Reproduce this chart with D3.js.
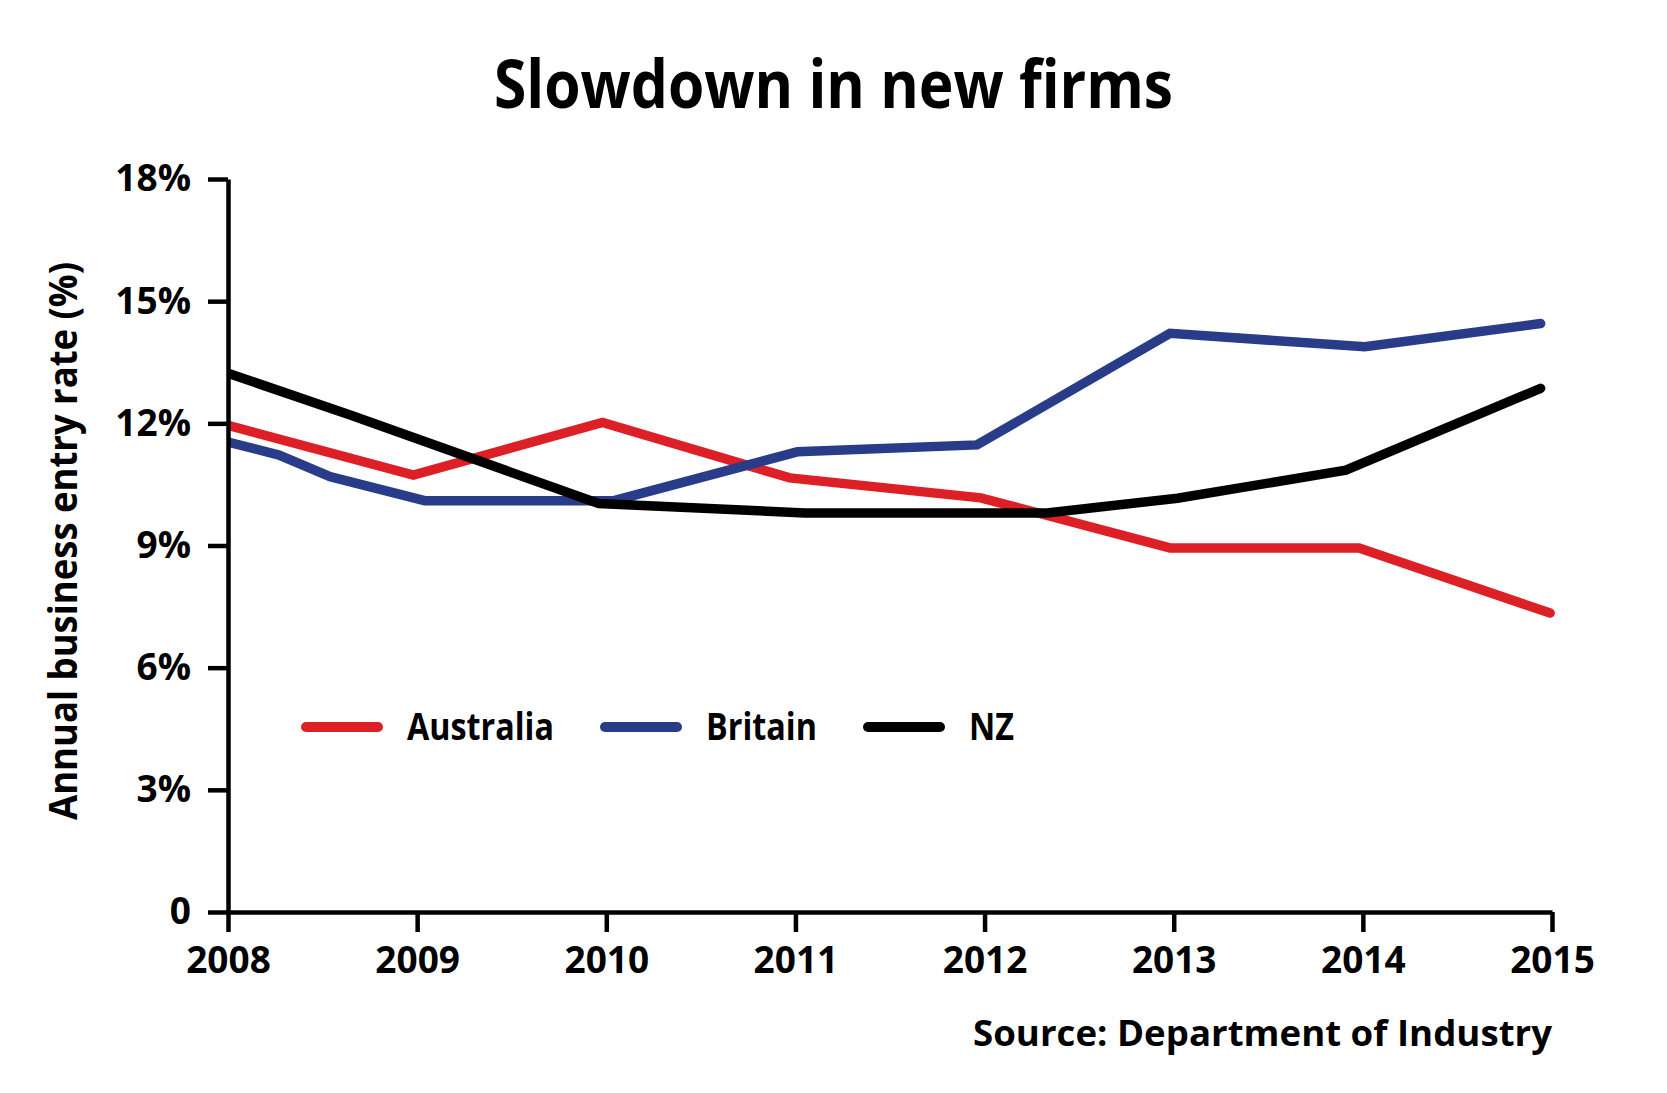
<!DOCTYPE html>
<html>
<head>
<meta charset="utf-8">
<script src="https://cdn.jsdelivr.net/npm/d3@7"></script>
<style>
  html, body { margin: 0; padding: 0; background: #fff; }
  svg { display: block; }
  text { font-family: "Open Sans", "DejaVu Sans", sans-serif; font-weight: 700; fill: #000; }
</style>
</head>
<body>
<svg id="chart" width="1667" height="1093"></svg>
<script>
// ---------- data ----------
const years = [2008, 2009, 2010, 2011, 2012, 2013, 2014, 2015];
const yTickValues = [0, 3, 6, 9, 12, 15, 18];
const yTickLabels = ["0", "3%", "6%", "9%", "12%", "15%", "18%"];

const seriesNames = ["Australia", "Britain", "NZ"];

const australiaX = [2008, 2008.98, 2009.98, 2010.97, 2011.98, 2012.98, 2013.98, 2014.99];
const australia  = [11.95, 10.73, 12.02, 10.66, 10.17, 8.94, 8.94, 7.34];

const britainX = [2008, 2008.27, 2008.54, 2009.04, 2010.04, 2011.01, 2011.96, 2012.98, 2014.01, 2014.94];
const britain  = [11.54, 11.22, 10.69, 10.10, 10.10, 11.30, 11.47, 14.21, 13.88, 14.45];

const nzX = [2008, 2008.65, 2009.96, 2011.05, 2012.33, 2013.02, 2013.91, 2014.94];
const nz  = [13.23, 12.20, 10.03, 9.80, 9.80, 10.16, 10.85, 12.86];

const titleText = "Slowdown in new firms";
const yAxisTitle = "Annual business entry rate (%)";
const sourceText = "Source: Department of Industry";

// ---------- styling / layout ----------
const colors = { "Australia": "#dd1f26", "Britain": "#283c8a", "NZ": "#000000" };
const legendTextWidths = { "Australia": 147, "Britain": 111, "NZ": 45 };

const svg = d3.select("#chart");
const x = d3.scaleLinear().domain([2008, 2015]).range([228, 1552]);
const y = d3.scaleLinear().domain([0, 18]).range([912, 179]);

const series = [
  { name: "Australia", pts: australiaX.map((v, i) => ({ x: v, v: australia[i] })) },
  { name: "Britain",   pts: britainX.map((v, i) => ({ x: v, v: britain[i] })) },
  { name: "NZ",        pts: nzX.map((v, i) => ({ x: v, v: nz[i] })) }
];

// title
svg.append("text")
  .attr("x", 833.5).attr("y", 108)
  .attr("text-anchor", "middle")
  .attr("font-size", 66)
  .attr("textLength", 679).attr("lengthAdjust", "spacingAndGlyphs")
  .text(titleText);

// clip for lines (start at the y axis)
svg.append("defs").append("clipPath").attr("id", "plotclip")
  .append("rect").attr("x", x(2008)).attr("y", 0).attr("width", 1667 - x(2008)).attr("height", 1093);

// lines
const line = d3.line().x(d => x(d.x)).y(d => y(d.v));
svg.append("g").attr("clip-path", "url(#plotclip)")
  .selectAll("path").data(series).join("path")
  .attr("d", d => line(d.pts))
  .attr("fill", "none")
  .attr("stroke", d => colors[d.name])
  .attr("stroke-width", 9.5)
  .attr("stroke-linecap", "round")
  .attr("stroke-linejoin", "miter");

// y axis
const yAxis = svg.append("g").attr("transform", `translate(${x(2008)},0)`)
  .call(d3.axisLeft(y).tickValues(yTickValues)
    .tickFormat((d, i) => yTickLabels[i]).tickSize(20).tickSizeOuter(0).tickPadding(17));
// x axis
const xAxis = svg.append("g").attr("transform", `translate(0,${y(0)})`)
  .call(d3.axisBottom(x).tickValues(years).tickFormat(d3.format("d"))
    .tickSize(20).tickSizeOuter(0).tickPadding(15));

[yAxis, xAxis].forEach(g => {
  g.select(".domain").attr("stroke", "#000").attr("stroke-width", 4.5);
  g.selectAll(".tick line").attr("stroke", "#000").attr("stroke-width", 4.5);
  g.selectAll(".tick text").attr("font-size", 37)
    .attr("font-family", "'Open Sans', sans-serif").attr("font-weight", 700).attr("fill", "#000");
});

// y axis title
svg.append("text")
  .attr("transform", "translate(77,541) rotate(-90)")
  .attr("text-anchor", "middle")
  .attr("font-size", 40)
  .attr("textLength", 558).attr("lengthAdjust", "spacingAndGlyphs")
  .text(yAxisTitle);

// legend
const legend = svg.append("g");
let lx = 306;
const ly = 727;
seriesNames.forEach(name => {
  legend.append("line")
    .attr("x1", lx).attr("x2", lx + 72).attr("y1", ly).attr("y2", ly)
    .attr("stroke", colors[name]).attr("stroke-width", 10).attr("stroke-linecap", "round");
  const tx = lx + 72 + 29;
  legend.append("text")
    .attr("x", tx).attr("y", ly + 13)
    .attr("font-size", 37)
    .attr("textLength", legendTextWidths[name]).attr("lengthAdjust", "spacingAndGlyphs")
    .text(name);
  lx = tx + legendTextWidths[name] + 51;
});

// source
svg.append("text")
  .attr("x", 1552).attr("y", 1046)
  .attr("text-anchor", "end")
  .attr("font-size", 35)
  .attr("textLength", 579).attr("lengthAdjust", "spacingAndGlyphs")
  .text(sourceText);
</script>
</body>
</html>
